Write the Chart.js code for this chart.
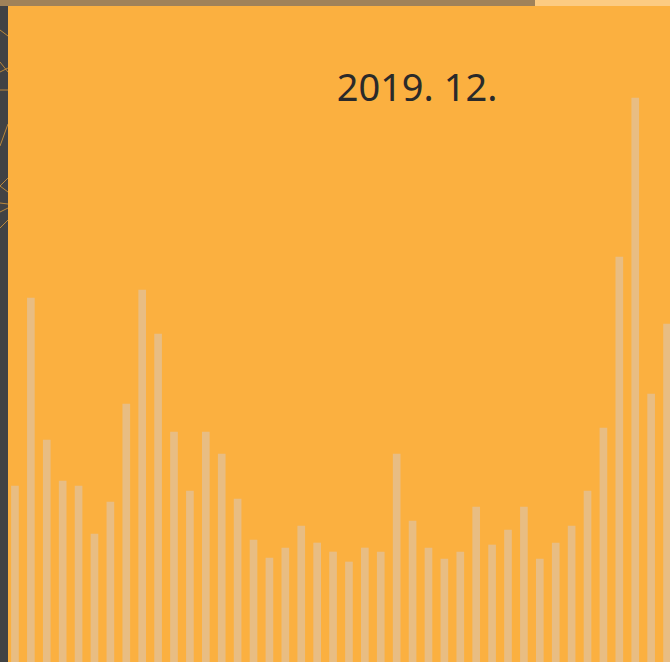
<!DOCTYPE html>
<html>
<head>
<meta charset="utf-8">
<script src="https://cdn.jsdelivr.net/npm/chart.js@4/dist/chart.umd.min.js"></script>
<style>
  html, body { margin: 0; padding: 0; }
  body { width: 670px; height: 662px; overflow: hidden; position: relative; background: #fbb040; }
  #topbar-left { position: absolute; left: 0; top: 0; width: 535px; height: 6px; background: #a08259; }
  #topbar-right { position: absolute; left: 535px; top: 0; width: 135px; height: 6px; background: #fccb82; }
  #side { position: absolute; left: 0; top: 6px; width: 8px; height: 656px; background: #414244; overflow: hidden; z-index: 2; }
  #title { position: absolute; left: 297px; width: 240px; top: 60px; text-align: center;
    font-family: "Noto Sans", sans-serif; font-size: 38px; color: #2a2a2a; }
  #wrap { position: absolute; left: 6.5px; top: 0; width: 668px; height: 662px; }
</style>
</head>
<body>
<div id="topbar-left"></div>
<div id="topbar-right"></div>
<div id="side">
  <svg width="8" height="656">
    <g stroke="#d99a3a" stroke-width="0.8" fill="none">
      <line x1="0" y1="24" x2="8" y2="30"/>
      <line x1="0" y1="56" x2="8" y2="66"/>
      <line x1="0" y1="66" x2="8" y2="62"/>
      <line x1="0" y1="84" x2="8" y2="84"/>
      <line x1="0" y1="140" x2="8" y2="118"/>
      <line x1="0" y1="180" x2="8" y2="172"/>
      <line x1="0" y1="180" x2="8" y2="186"/>
      <line x1="0" y1="197" x2="8" y2="198"/>
      <line x1="0" y1="206" x2="8" y2="202"/>
      <line x1="0" y1="222" x2="8" y2="214"/>
    </g>
  </svg>
</div>
<div id="title">2019. 12.</div>
<div id="wrap"><canvas id="chart"></canvas></div>
<script>
// one bar per day
const days = [
  '1', '2', '3', '4', '5', '6', '7', '8', '9', '10', '11', '12', '13', '14',
  '15', '16', '17', '18', '19', '20', '21', '22', '23', '24', '25', '26', '27', '28',
  '29', '30', '31', '32', '33', '34', '35', '36', '37', '38', '39', '40', '41', '42'
];
const visits = [
  176, 364, 222, 181, 176, 128, 160, 258, 372, 328, 230, 171, 230, 208,
  163, 122, 104, 114, 136, 119, 110, 100, 114, 110, 208, 141, 114, 103,
  110, 155, 117, 132, 155, 103, 119, 136, 171, 234, 405, 564, 268, 338
];
const yMax = 662;

const ctx = document.getElementById('chart');

new Chart(ctx, {
  type: 'bar',
  data: {
    labels: days,
    datasets: [{
      data: visits,
      backgroundColor: '#e8bd83',
      borderWidth: 0,
      barThickness: 7
    }]
  },
  options: {
    responsive: true,
    maintainAspectRatio: false,
    animation: false,
    layout: { padding: 0 },
    scales: {
      x: { display: false, offset: true },
      y: { display: false, min: 0, max: yMax }
    },
    plugins: {
      legend: { display: false },
      tooltip: { enabled: false }
    }
  }
});
</script>
</body>
</html>
